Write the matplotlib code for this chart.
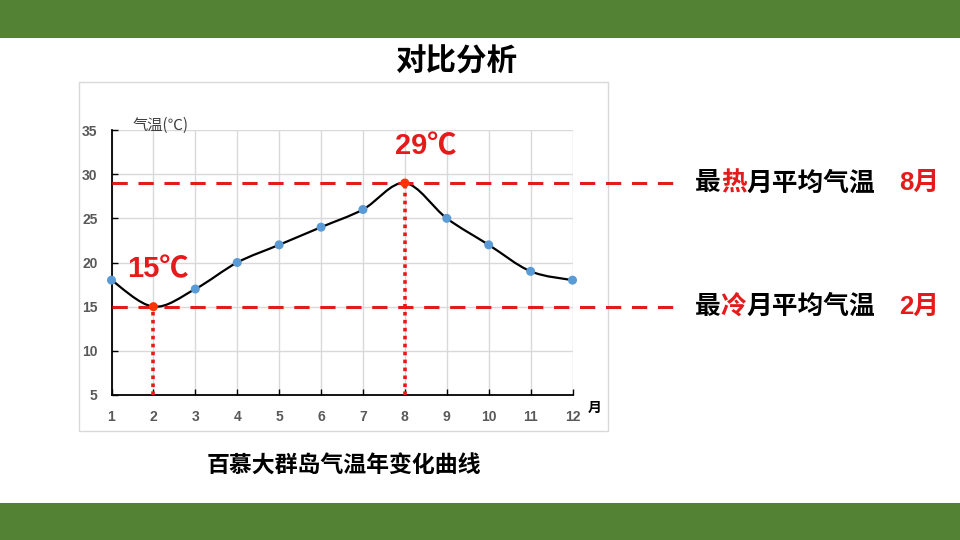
import matplotlib
matplotlib.use("Agg")
import matplotlib.pyplot as plt
from matplotlib.path import Path
from matplotlib.patches import PathPatch, Rectangle
import numpy as np

plt.rcParams["font.family"] = ["Noto Sans CJK SC", "DejaVu Sans"]

# data
months = [1, 2, 3, 4, 5, 6, 7, 8, 9, 10, 11, 12]
temps = [18, 15, 17, 20, 22, 24, 26, 29, 25, 22, 19, 18]
y_ticks = [5, 10, 15, 20, 25, 30, 35]
x_ticks = months

GREEN = "#548235"
RED = "#E41B1B"
BLUE = "#5B9BD5"
GREY = "#595959"

W, H = 960, 540
fig = plt.figure(figsize=(9.6, 5.4), dpi=100)
fig.patch.set_facecolor("white")


def fx(px):
    return px / W


def fy(py):
    return 1 - py / H


# green bands top and bottom
fig.patches.append(Rectangle((0, fy(38)), 1, 38 / H, transform=fig.transFigure,
                             facecolor=GREEN, edgecolor="none", zorder=-2))
fig.patches.append(Rectangle((0, 0), 1, 37 / H, transform=fig.transFigure,
                             facecolor=GREEN, edgecolor="none", zorder=-2))
# light frame around the chart
fig.patches.append(Rectangle((fx(79), fy(431)), (608 - 79) / W, (431 - 82) / H,
                             transform=fig.transFigure, facecolor="white",
                             edgecolor="#D9D9D9", linewidth=1, zorder=-2))

ax = fig.add_axes([fx(111.5), fy(395), (572.5 - 111.5) / W, (395 - 130) / H])
ax.set_zorder(2)
ax.set_facecolor("none")
ax.set_xlim(1, 12)
ax.set_ylim(5, 35)
ax.set_xticks(x_ticks)
ax.set_yticks(y_ticks)
ax.grid(True, color="#D9D9D9", linewidth=1)
ax.set_axisbelow(True)
for s in ["top", "right"]:
    ax.spines[s].set_visible(False)
for s in ["left", "bottom"]:
    ax.spines[s].set_color("black")
    ax.spines[s].set_linewidth(1.3)
ax.tick_params(direction="in", length=4, width=1, colors="black")
for lab in ax.get_xticklabels() + ax.get_yticklabels():
    lab.set_color(GREY)
    lab.set_fontweight("bold")
    lab.set_fontsize(10)
    lab.set_family(["Liberation Sans", "DejaVu Sans"])
ax.tick_params(axis="x", pad=11)
ax.tick_params(axis="y", pad=10)

# smooth curve through the points (bezier, like the spreadsheet smoothing)
x = np.array(months, dtype=float)
y = np.array(temps, dtype=float)
verts = [(x[0], y[0])]
codes = [Path.MOVETO]
n = len(x)
for i in range(n - 1):
    p0 = np.array([x[max(i - 1, 0)], y[max(i - 1, 0)]])
    p1 = np.array([x[i], y[i]])
    p2 = np.array([x[i + 1], y[i + 1]])
    p3 = np.array([x[min(i + 2, n - 1)], y[min(i + 2, n - 1)]])
    c1 = p1 + (p2 - p0) / 6
    c2 = p2 - (p3 - p1) / 6
    verts += [tuple(c1), tuple(c2), tuple(p2)]
    codes += [Path.CURVE4] * 3
ax.add_patch(PathPatch(Path(verts, codes), facecolor="none", edgecolor="black",
                       linewidth=1.6, zorder=3))

hot_i = int(np.argmax(temps))
cold_i = int(np.argmin(temps))
colors = [BLUE] * n
colors[hot_i] = "#FF3300"
colors[cold_i] = "#FF3300"
ax.scatter(months, temps, s=30, c=colors, zorder=5, clip_on=False)

# reference lines for the hottest / coldest month
x_end = 1 + (675 - 111.5) / ((572.5 - 111.5) / 11)
for i in (hot_i, cold_i):
    ax.plot([1, x_end], [temps[i], temps[i]], color=RED, linewidth=2.2,
            dashes=(5, 3.5), clip_on=False, zorder=4)
    ax.plot([months[i], months[i]], [5, temps[i]], color=RED, linewidth=2.6,
            linestyle=(0, (1, 1.2)), zorder=4)

num_font = ["Liberation Sans", "Noto Sans CJK SC"]
ax.text(months[cold_i] + 0.1, temps[cold_i] + 4.2, f"{temps[cold_i]}℃", color=RED,
        fontsize=21, fontweight="bold", family=num_font, ha="center", va="center")
ax.text(months[hot_i] + 0.5, temps[hot_i] + 4.2, f"{temps[hot_i]}℃", color=RED,
        fontsize=21, fontweight="bold", family=num_font, ha="center", va="center")

# axis titles
fig.text(fx(133), fy(125), "气温(℃)", color="#404040", fontsize=11,
         ha="left", va="center")
fig.text(fx(588), fy(408), "月", color="black", fontsize=10, fontweight="bold",
         ha="left", va="center")

# title and caption
fig.text(fx(456), fy(62), "对比分析", fontsize=22, fontweight="bold",
         ha="center", va="center")
fig.text(fx(344), fy(466), "百慕大群岛气温年变化曲线", fontsize=16.5,
         fontweight="bold", ha="center", va="center")

# right side labels with coloured characters
fs = 18.5
em = fs * 100 / 72
for i, mid in ((hot_i, "热"), (cold_i, "冷")):
    ypx = 395 - (temps[i] - 5) * (395 - 130) / 30
    x0 = 695
    fig.text(fx(x0), fy(ypx), "最", fontsize=fs, fontweight="bold",
             ha="left", va="center")
    fig.text(fx(x0 + em), fy(ypx), mid, fontsize=fs, fontweight="bold",
             color=RED, ha="left", va="center")
    fig.text(fx(x0 + 2 * em), fy(ypx), "月平均气温", fontsize=fs,
             fontweight="bold", ha="left", va="center")
    fig.text(fx(899), fy(ypx), f"{months[i]}月", fontsize=fs, fontweight="bold",
             color=RED, family=num_font, ha="left", va="center")

fig.savefig("out.png", dpi=100)
